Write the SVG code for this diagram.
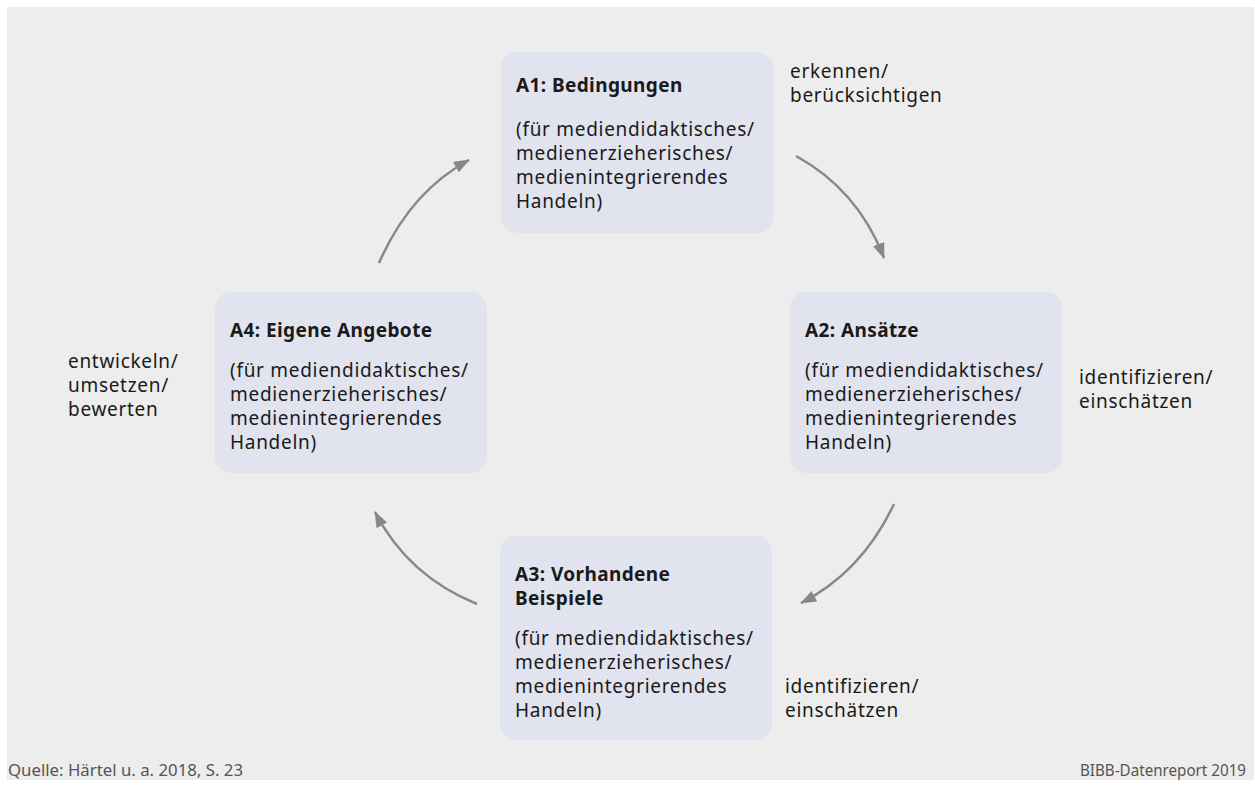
<svg xmlns="http://www.w3.org/2000/svg" width="1255" height="787" viewBox="0 0 1255 787">
<defs>
<style>
.bg{fill:#ededed}
.box{fill:#e1e3ee}
.t{font-family:"Noto Sans","Liberation Sans",sans-serif;font-size:19px;letter-spacing:0.7px;fill:#1a1a1a}
.b{font-weight:bold;letter-spacing:0.4px}
.f{font-family:"Noto Sans","Liberation Sans",sans-serif;font-size:16px;fill:#555}
.c{fill:none;stroke:#888;stroke-width:2.5}
</style>
<marker id="ah" viewBox="0 0 16 12" refX="15" refY="6" markerWidth="16" markerHeight="12" markerUnits="userSpaceOnUse" orient="auto">
<path d="M0,0 L16,6 L0,12 Z" fill="#888"/>
</marker>
</defs>
<rect x="0" y="0" width="1255" height="787" fill="#ffffff"/>
<rect class="bg" x="7" y="7" width="1247" height="773"/>

<g id="connectors">
<path class="c" d="M379,263 Q410,192 469,160" marker-end="url(#ah)"/>
<path class="c" d="M796,156 Q858,190 884,258" marker-end="url(#ah)"/>
<path class="c" d="M894,504 Q862,572 801,603" marker-end="url(#ah)"/>
<path class="c" d="M477,604 Q408,576 375,512" marker-end="url(#ah)"/>
</g>

<g id="A1">
<rect class="box" x="501" y="52" width="272" height="181" rx="16"/>
<text class="t b" x="516" y="92">A1: Bedingungen</text>
<text class="t" x="516" y="136">(für mediendidaktisches/</text>
<text class="t" x="516" y="160">medienerzieherisches/</text>
<text class="t" x="516" y="184">medienintegrierendes</text>
<text class="t" x="516" y="208">Handeln)</text>
</g>

<g id="A2">
<rect class="box" x="790" y="292" width="272" height="181" rx="16"/>
<text class="t b" x="805" y="337">A2: Ansätze</text>
<text class="t" x="805" y="377">(für mediendidaktisches/</text>
<text class="t" x="805" y="401">medienerzieherisches/</text>
<text class="t" x="805" y="425">medienintegrierendes</text>
<text class="t" x="805" y="449">Handeln)</text>
</g>

<g id="A3">
<rect class="box" x="500" y="536" width="272" height="204" rx="16"/>
<text class="t b" x="515" y="581">A3: Vorhandene</text>
<text class="t b" x="515" y="605">Beispiele</text>
<text class="t" x="515" y="645">(für mediendidaktisches/</text>
<text class="t" x="515" y="669">medienerzieherisches/</text>
<text class="t" x="515" y="693">medienintegrierendes</text>
<text class="t" x="515" y="717">Handeln)</text>
</g>

<g id="A4">
<rect class="box" x="215" y="292" width="272" height="181" rx="16"/>
<text class="t b" x="230" y="337">A4: Eigene Angebote</text>
<text class="t" x="230" y="377">(für mediendidaktisches/</text>
<text class="t" x="230" y="401">medienerzieherisches/</text>
<text class="t" x="230" y="425">medienintegrierendes</text>
<text class="t" x="230" y="449">Handeln)</text>
</g>

<g id="labels">
<text class="t" x="790" y="78">erkennen/</text>
<text class="t" x="790" y="102">berücksichtigen</text>
<text class="t" x="1079" y="384">identifizieren/</text>
<text class="t" x="1079" y="408">einschätzen</text>
<text class="t" x="785" y="693">identifizieren/</text>
<text class="t" x="785" y="717">einschätzen</text>
<text class="t" x="68" y="368">entwickeln/</text>
<text class="t" x="68" y="392">umsetzen/</text>
<text class="t" x="68" y="416">bewerten</text>
</g>

<g id="footer">
<text class="f" x="8" y="776" textLength="235" lengthAdjust="spacingAndGlyphs">Quelle: Härtel u. a. 2018, S. 23</text>
<text class="f" x="1246" y="776" text-anchor="end" textLength="166" lengthAdjust="spacingAndGlyphs">BIBB-Datenreport 2019</text>
</g>
</svg>
